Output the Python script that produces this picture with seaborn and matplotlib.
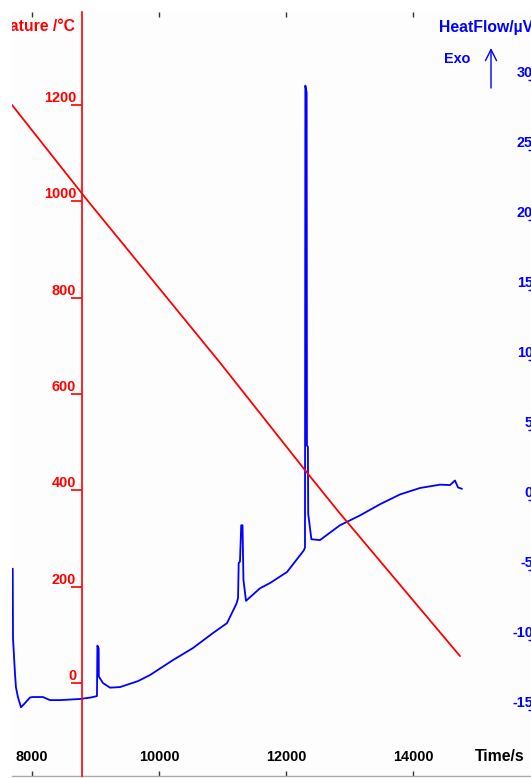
import matplotlib
matplotlib.use("Agg")
import matplotlib.pyplot as plt
import seaborn as sns
import pandas as pd

# Cooling segment: sample temperature (°C) against time (s)
time_temp = [7685, 8866, 10961, 12299, 12850, 14740]
temperature = [1200, 1003, 665, 442, 352, 56]

# DSC heat-flow signal (µV) against time (s)
time_hf = [7696, 7701, 7732, 7748, 7780, 7827, 7890, 7969, 8016, 8173, 8283, 8441,
           8756, 8930, 9023, 9030, 9050, 9052, 9118, 9228, 9386, 9670, 9858, 10220,
           10535, 10850, 11071, 11220, 11245, 11255, 11275, 11295, 11315, 11330, 11370,
           11591, 11748, 12016, 12280, 12299, 12305, 12325, 12330, 12345, 12350, 12400,
           12535, 12850, 13165, 13480, 13795, 14110, 14425, 14583, 14661, 14709, 14772]
heat_flow = [-4.9, -9.9, -12.4, -13.4, -14.1, -14.8, -14.5, -14.1, -14.07, -14.07, -14.29, -14.29,
             -14.21, -14.1, -14.0, -10.4, -10.6, -12.6, -13.07, -13.4, -13.36, -12.93, -12.5, -11.43,
             -10.57, -9.5, -8.79, -7.4, -7.0, -4.5, -4.4, -1.8, -1.8, -5.7, -7.2,
             -6.3, -5.93, -5.14, -3.6, -3.4, 29.6, 29.1, 3.9, 3.8, -1.0, -2.8,
             -2.86, -1.8, -1.1, -0.3, 0.4, 0.86, 1.1, 1.07, 1.4, 0.9, 0.8]

x_ticks = [8000, 10000, 12000, 14000]
temp_ticks = [0, 200, 400, 600, 800, 1000, 1200]
hf_ticks = [-15, -10, -5, 0, 5, 10, 15, 20, 25, 30]

RED = "#ff0000"
BLUE = "#0000ff"
TITLE_SIZE = 11.3

sns.set_style("white")
plt.rcParams["font.family"] = ["Liberation Sans", "DejaVu Sans"]
plt.rcParams["font.weight"] = "bold"
plt.rcParams["font.size"] = 10.4

W, H = 531, 778
fig = plt.figure(figsize=(W / 100, H / 100), dpi=100, facecolor="white")
ax = fig.add_axes([12 / W, 2 / H, 525 / W, 764 / H])
ax.set_facecolor("#fdfdfd")
# temperature lives on a twin axes drawn above the heat-flow axes
ax2 = ax.twinx()

df_hf = pd.DataFrame({"t": time_hf, "hf": heat_flow})
df_t = pd.DataFrame({"t": time_temp, "T": temperature})

# heat flow on the base axes, scale on the right
sns.lineplot(data=df_hf, x="t", y="hf", ax=ax, color=BLUE, lw=1.3,
             sort=False, estimator=None)
ax.set_xlim(7685, 15953)
ax.set_ylim(-19.71, 34.86)
ax.set_xlabel("")
ax.set_ylabel("")

ax.yaxis.tick_right()
ax.set_yticks(hf_ticks)
ax.set_yticklabels([str(v) for v in hf_ticks], color=BLUE, ha="right", va="bottom",
                   fontweight="bold")
ax.tick_params(axis="y", which="both", right=True, left=False, labelright=True,
               labelleft=False, direction="in", length=6.5, width=1.0, color=BLUE,
               pad=-2.9)

ax.set_xticks(x_ticks)
ax.set_xticklabels([str(v) for v in x_ticks], va="baseline", fontweight="bold")
ax.tick_params(axis="x", bottom=True, top=True, direction="in", length=3.6,
               width=1.0, color="#333333", pad=-10.8, labelcolor="black")

for side in ["left", "top", "right"]:
    ax.spines[side].set_visible(False)
ax.spines["bottom"].set_color("#aaaaaa")
ax.spines["bottom"].set_linewidth(1.0)

# temperature curve with its scale spine placed inside the plot
sns.lineplot(data=df_t, x="t", y="T", ax=ax2, color=RED, lw=1.3,
             sort=False, estimator=None)
ax2.set_xlim(7685, 15953)
ax2.set_ylim(-193, 1393)
ax2.set_xlabel("")
ax2.set_ylabel("")
ax2.yaxis.tick_left()
ax2.spines["left"].set_position(("data", 8787))
ax2.spines["left"].set_visible(True)
ax2.spines["left"].set_color(RED)
ax2.spines["left"].set_linewidth(1.2)
for side in ["right", "top", "bottom"]:
    ax2.spines[side].set_visible(False)
ax2.set_yticks(temp_ticks)
ax2.set_yticklabels([str(v) for v in temp_ticks], color=RED, ha="right", va="bottom",
                    fontweight="bold")
ax2.tick_params(axis="y", left=True, right=False, labelleft=True, labelright=False,
                direction="out", length=7.9, width=1.2, color=RED, pad=-3.6)

# axis titles
ax2.text(75.5, H - 31.5, "Temperature /°C", transform=None, color=RED,
         fontweight="bold", fontsize=TITLE_SIZE, ha="right", va="baseline",
         clip_on=True)
fig.text(439 / W, (H - 32) / H, "HeatFlow/µV", color=BLUE, fontweight="bold",
         fontsize=TITLE_SIZE, ha="left", va="baseline")
fig.text(444 / W, (H - 63) / H, "Exo", color=BLUE, fontweight="bold",
         ha="left", va="baseline")
fig.text(475 / W, (H - 761) / H, "Time/s", color="black", fontweight="bold",
         fontsize=TITLE_SIZE, ha="left", va="baseline")
ax.annotate("", xy=(491, H - 48), xytext=(491, H - 88),
            xycoords="figure pixels", textcoords="figure pixels",
            arrowprops=dict(arrowstyle="->", color=BLUE, lw=1.0,
                            mutation_scale=20, shrinkA=0, shrinkB=0))

fig.savefig("out.png", dpi=100, facecolor="white")
